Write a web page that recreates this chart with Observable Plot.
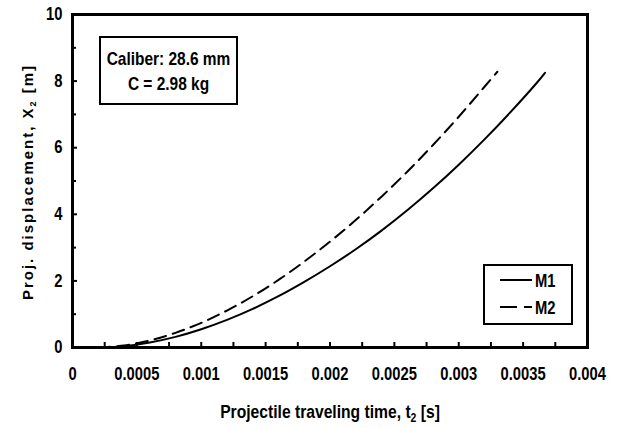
<!DOCTYPE html>
<html>
<head>
<meta charset="utf-8">
<script src="https://cdn.jsdelivr.net/npm/d3@7"></script>
<script src="https://cdn.jsdelivr.net/npm/@observablehq/plot@0.6"></script>
<style>
  html, body { margin: 0; padding: 0; background: #fff; }
  #chart { width: 622px; height: 428px; }
</style>
</head>
<body>
<div id="chart"></div>
<script>
// Series M1 (solid)
const timeM1 = [0.0002, 0.0004, 0.0006, 0.0008, 0.001, 0.0012, 0.0014, 0.0016, 0.0018, 0.002, 0.0022, 0.0024, 0.0026, 0.0028, 0.003, 0.0032, 0.0034, 0.0036, 0.00367];
const dispM1 = [0, 0.04, 0.15, 0.32, 0.55, 0.83, 1.16, 1.54, 1.97, 2.44, 2.95, 3.51, 4.12, 4.78, 5.49, 6.25, 7.06, 7.92, 8.25];
// Series M2 (dashed)
const timeM2 = [0.0002, 0.0004, 0.0006, 0.0008, 0.001, 0.0012, 0.0014, 0.0016, 0.0018, 0.002, 0.0022, 0.0024, 0.0026, 0.0028, 0.003, 0.0032, 0.0033];
const dispM2 = [0, 0.06, 0.21, 0.44, 0.74, 1.11, 1.54, 2.03, 2.58, 3.18, 3.83, 4.53, 5.28, 6.08, 6.93, 7.83, 8.28];

const xMajorTicks = [0, 0.0005, 0.001, 0.0015, 0.002, 0.0025, 0.003, 0.0035, 0.004];
const xMinorTicks = [0.00025, 0.00075, 0.00125, 0.00175, 0.00225, 0.00275, 0.00325, 0.00375];
const yMajorTicks = [0, 2, 4, 6, 8, 10];
const yMinorTicks = [1, 3, 5, 7, 9];

const seriesNames = ["M1", "M2"];
const xTitle = "Projectile traveling time, t";
const yTitle = "Proj. displacement, X";
const noteLines = ["Caliber: 28.6 mm", "C = 2.98 kg"];

const m1 = timeM1.map((t, i) => ({t, x: dispM1[i]}));
const m2 = timeM2.map((t, i) => ({t, x: dispM2[i]}));

const font = "'Liberation Sans', Arial, sans-serif";
const fmt = d => String(+d.toFixed(4));

const chart = Plot.plot({
  width: 622,
  height: 428,
  marginLeft: 72,
  marginRight: 35,
  marginTop: 14,
  marginBottom: 81,
  x: {domain: [0, 0.004]},
  y: {domain: [0, 10]},
  style: {fontFamily: font, fontWeight: "bold", fontSize: "18px", color: "black", background: "white"},
  marks: [
    Plot.axisX({ticks: xMajorTicks, tickSize: 0, tickPadding: 20, tickFormat: fmt, label: null}),
    Plot.axisX({ticks: xMajorTicks, tickSize: -5, tickFormat: () => "", label: null, strokeWidth: 2}),
    Plot.axisX({ticks: xMinorTicks, tickSize: -5, tickFormat: () => "", label: null, strokeWidth: 2}),
    Plot.axisY({ticks: yMajorTicks, tickSize: 0, tickPadding: 10, tickFormat: d => String(d), label: null}),
    Plot.axisY({ticks: yMajorTicks, tickSize: -5, tickFormat: () => "", label: null, strokeWidth: 2}),
    Plot.axisY({ticks: yMinorTicks, tickSize: -4, tickFormat: () => "", label: null, strokeWidth: 2}),
    Plot.line(m1, {x: "t", y: "x", stroke: "black", strokeWidth: 2, curve: "catmull-rom"}),
    Plot.line(m2, {x: "t", y: "x", stroke: "black", strokeWidth: 2, strokeDasharray: "12,7", curve: "catmull-rom"}),
    Plot.frame({stroke: "black", strokeWidth: 3})
  ]
});
document.getElementById("chart").appendChild(chart);

const svg = d3.select(chart);
// Condense tick labels horizontally (narrow bold look)
svg.selectAll("g[aria-label='x-axis tick label'] text, g[aria-label='y-axis tick label'] text")
  .attr("transform", function () { return (this.getAttribute("transform") || "") + " scale(0.82,1)"; });

function condensedText(x, y, sx, size, anchor) {
  return svg.append("text")
    .attr("transform", `translate(${x},${y}) scale(${sx},1)`)
    .attr("text-anchor", anchor)
    .style("font-family", font).style("font-weight", "bold").style("font-size", size + "px")
    .attr("fill", "black");
}

// X axis title
const xt = condensedText(330, 418, 0.87, 18, "middle");
xt.append("tspan").text(xTitle);
xt.append("tspan").attr("dy", 4).style("font-size", "12px").text("2");
xt.append("tspan").attr("dy", -4).text(" [s]");

// Y axis title
const yt = svg.append("text")
  .attr("transform", "translate(33,182) rotate(-90)")
  .attr("text-anchor", "middle")
  .style("font-family", font).style("font-weight", "bold").style("font-size", "15px")
  .style("letter-spacing", "2px")
  .attr("fill", "black");
yt.append("tspan").text(yTitle);
yt.append("tspan").attr("dy", 3).style("font-size", "9px").text("2");
yt.append("tspan").attr("dy", -3).text(" [m]");

// Annotation box
svg.append("rect").attr("x", 100).attr("y", 37).attr("width", 137).attr("height", 67)
  .attr("fill", "white").attr("stroke", "black").attr("stroke-width", 2);
noteLines.forEach((s, i) => {
  condensedText(168.5, 65 + i * 25, 0.86, 18, "middle").text(s);
});

// Legend
svg.append("rect").attr("x", 484).attr("y", 265).attr("width", 88).attr("height", 59)
  .attr("fill", "white").attr("stroke", "black").attr("stroke-width", 2);
seriesNames.forEach((name, i) => {
  const cy = 280 + i * 27;
  svg.append("line").attr("x1", 500).attr("x2", 532).attr("y1", cy).attr("y2", cy)
    .attr("stroke", "black").attr("stroke-width", 2)
    .attr("stroke-dasharray", i === 1 ? "17,7" : null);
  condensedText(535, cy + 7, 0.82, 18, "start").text(name);
});
</script>
</body>
</html>
